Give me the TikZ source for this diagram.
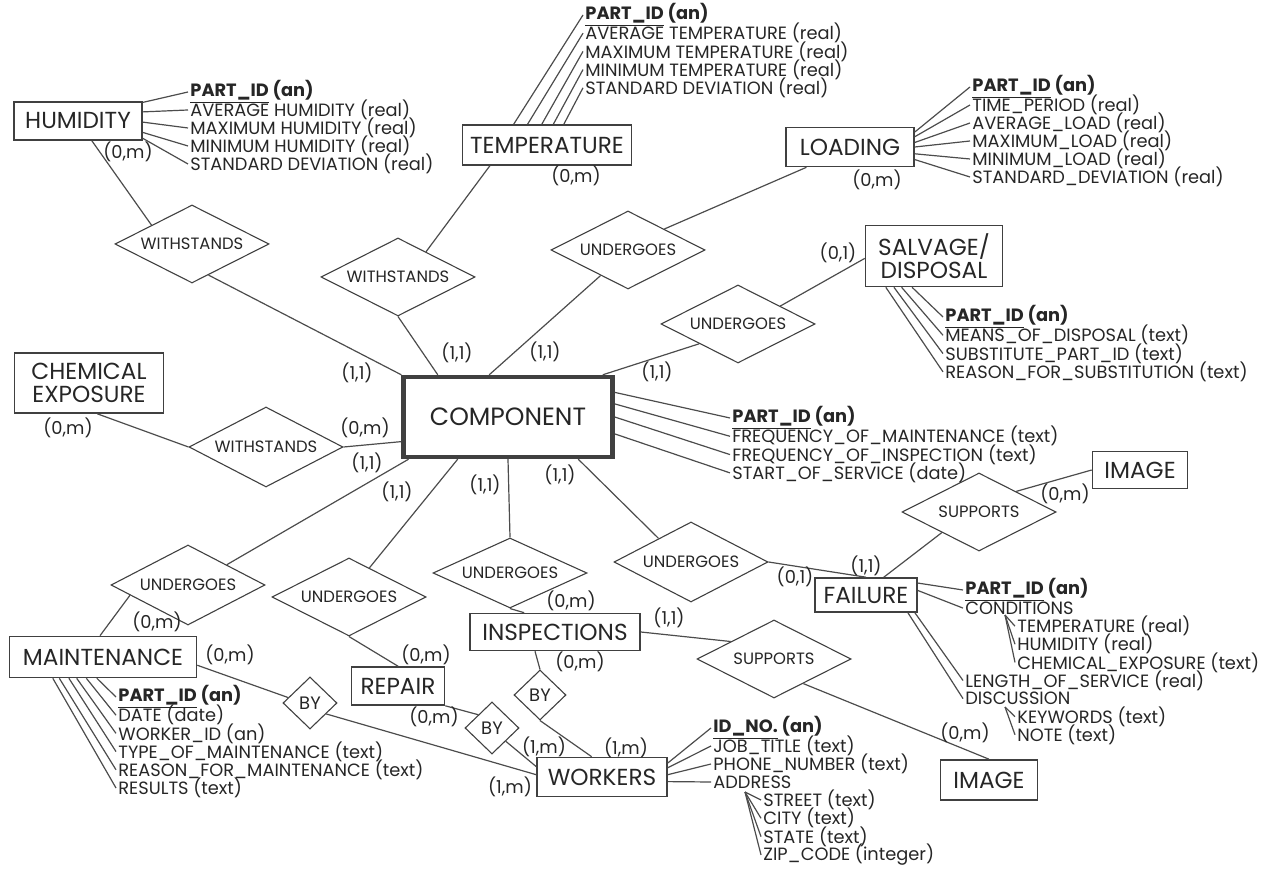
\documentclass[tikz,border=0pt]{standalone}
\usepackage{fontspec}
\setmainfont{Poppins}
\usetikzlibrary{shapes.geometric}
\newcommand{\keyattr}[2]{{\bfseries\underline{#1} #2}}
\tikzset{
  ent/.style={draw=black!75, line width=0.8pt, inner sep=0pt, align=center, text=black!85, font=\fontsize{11.6}{11.5}\selectfont},
  rel/.style={draw=black!75, line width=0.55pt, diamond, aspect=2, inner sep=0pt, minimum width=77pt, minimum height=39pt, text=black!85, font=\fontsize{8.2}{9}\selectfont},
  byrel/.style={rel, aspect=1, minimum width=27pt, minimum height=26pt, font=\fontsize{9}{10}\selectfont},
  attr/.style={anchor=west, inner sep=1pt, text=black!85, font=\fontsize{8.9}{9}\selectfont},
  card/.style={inner sep=0pt, text=black!85, font=\fontsize{8.9}{9}\selectfont},
  link/.style={draw=black!70, line width=0.6pt},
}
\begin{document}
\begin{tikzpicture}[x=0.5pt,y=-0.5pt]
\useasboundingbox (0,0) rectangle (1279,870);
% entities
\node[ent, minimum width=64pt, minimum height=19pt] (hum) at (78,121) {HUMIDITY};
\node[ent, minimum width=84.5pt, minimum height=20pt] (temp) at (547,145) {TEMPERATURE};
\node[ent, minimum width=64pt, minimum height=19.5pt] (load) at (850,147) {LOADING};
\node[ent, minimum width=68.5pt, minimum height=30.5pt] (salv) at (934,256) {SALVAGE/\\DISPOSAL};
\node[ent, minimum width=74.5pt, minimum height=30pt] (chem) at (89,383) {CHEMICAL\\EXPOSURE};
\node[ent, line width=2.2pt, minimum width=104.5pt, minimum height=40pt, font=\fontsize{12.5}{13}\selectfont] (comp) at (508,417) {COMPONENT};
\node[ent, minimum width=47.5pt, minimum height=18.5pt] (imga) at (1140,470) {IMAGE};
\node[ent, minimum width=51pt, minimum height=17pt] (fail) at (866,595) {FAILURE};
\node[ent, minimum width=93.5pt, minimum height=20.5pt] (maint) at (103,657) {MAINTENANCE};
\node[ent, minimum width=46.5pt, minimum height=19pt] (rep) at (398,686) {REPAIR};
\node[ent, minimum width=85pt, minimum height=18.5pt] (insp) at (555,632) {INSPECTIONS};
\node[ent, minimum width=65pt, minimum height=19.5pt] (work) at (602,777) {WORKERS};
\node[ent, minimum width=48.5pt, minimum height=20pt] (imgb) at (989,780) {IMAGE};
% relationships
\node[rel] (wh) at (192,244) {WITHSTANDS};
\node[rel] (wt) at (398,277) {WITHSTANDS};
\node[rel] (ul) at (628,250) {UNDERGOES};
\node[rel] (us) at (738,324) {UNDERGOES};
\node[rel, minimum height=40pt] (wc) at (266,447) {WITHSTANDS};
\node[rel, minimum height=40pt] (um) at (188,585) {UNDERGOES};
\node[rel] (ur) at (349,597) {UNDERGOES};
\node[rel, minimum height=35pt] (ui) at (510,573) {UNDERGOES};
\node[rel, minimum height=40pt] (uf) at (691,562) {UNDERGOES};
\node[rel] (sa) at (979,512) {SUPPORTS};
\node[rel] (sb) at (774,659) {SUPPORTS};
\node[byrel] (bm) at (310,703) {BY};
\node[byrel] (br) at (492,728) {BY};
\node[byrel, minimum width=26pt, minimum height=25pt] (bi) at (540,695) {BY};
% connectors
\draw[link] (hum.305) -- (wh.155);
\draw[link] (wh.298) -- (comp.north west);
\draw[link] (temp.200) -- (wt.42);
\draw[link] (wt.south) -- (comp.149);
\draw[link] (load.205) -- (ul.30);
\draw[link] (ul.223) -- (comp.114);
\draw[link] (salv.182) -- (us.23);
\draw[link] (us.south west) -- (comp.24);
\draw[link] (chem.285) -- (wc.west);
\draw[link] (wc.east) -- (comp.193);
\draw[link] (comp.203) -- (um.north east);
\draw[link] (um.190) -- (maint.98);
\draw[link] (comp.220) -- (ur.55);
\draw[link] (ur.south) -- (rep.north);
\draw[link] (comp.south) -- (ui.north);
\draw[link] (ui.south) -- (insp.148);
\draw[link] (insp.224) -- (bi.north);
\draw[link] (bi.south) -- (work.117);
\draw[link] (rep.south east) -- (br.north west);
\draw[link] (br.south east) -- (work.171);
\draw[link] (maint.355) -- (bm.166);
\draw[link] (bm.326) -- (work.178);
\draw[link] (comp.329) -- (uf.144);
\draw[link] (uf.east) -- (fail.north);
\draw[link] (fail.45) -- (sa.209);
\draw[link] (sa.29) -- (imga.west);
\draw[link] (insp.east) -- (sb.158);
\draw[link] (sb.320) -- (imgb.north);
% humidity attributes
\node[attr] (h1) at (188,92) {\keyattr{PART\_ID}{(an)}};
\foreach \txt [count=\i from 2] in {AVERAGE HUMIDITY (real), MAXIMUM HUMIDITY (real), MINIMUM HUMIDITY (real), STANDARD DEVIATION (real)}
  \node[attr] (h\i) at (188,{92+18*(\i-1)}) {\txt};
\foreach \a [count=\i] in {16,8,359,350,345} \draw[link] (hum.\a) -- (h\i.west);
% temperature attributes
\node[attr] (t1) at (583,15) {\keyattr{PART\_ID}{(an)}};
\foreach \txt [count=\i from 2] in {AVERAGE TEMPERATURE (real), MAXIMUM TEMPERATURE (real), MINIMUM TEMPERATURE (real), STANDARD DEVIATION (real)}
  \node[attr] (t\i) at (583,{15+18.2*(\i-1)}) {\txt};
\foreach \a [count=\i] in {148,133,104,73,51} \draw[link] (temp.\a) -- (t\i.west);
% loading attributes
\node[attr] (l1) at (970,87) {\keyattr{PART\_ID}{(an)}};
\foreach \txt [count=\i from 2] in {TIME\_PERIOD (real), AVERAGE\_LOAD (real), MAXIMUM\_LOAD (real), MINIMUM\_LOAD (real), STANDARD\_DEVIATION (real)}
  \node[attr] (l\i) at (970,{87+18*(\i-1)}) {\txt};
\foreach \a [count=\i] in {13,9,4.5,0,354,349} \draw[link] (load.\a) -- (l\i.west);
% salvage attributes
\node[attr] (s1) at (943,317) {\keyattr{PART\_ID}{(an)}};
\foreach \txt [count=\i from 2] in {MEANS\_OF\_DISPOSAL (text), SUBSTITUTE\_PART\_ID (text), REASON\_FOR\_SUBSTITUTION (text)}
  \node[attr] (s\i) at (943,{317+18.3*(\i-1)}) {\txt};
\foreach \a [count=\i] in {235,224,218,213} \draw[link] (salv.\a) -- (s\i.west);
% component attributes
\node[attr] (c1) at (730,418) {\keyattr{PART\_ID}{(an)}};
\foreach \txt [count=\i from 2] in {FREQUENCY\_OF\_MAINTENANCE (text), FREQUENCY\_OF\_INSPECTION (text), START\_OF\_SERVICE (date)}
  \node[attr] (c\i) at (730,{418+18.3*(\i-1)}) {\txt};
\foreach \a [count=\i] in {13.5,7.6,0,351} \draw[link] (comp.\a) -- (c\i.west);
% failure attributes
\node[attr] (f1) at (963,590) {\keyattr{PART\_ID}{(an)}};
\foreach \x/\txt [count=\i from 2] in {963/CONDITIONS, 1015/TEMPERATURE (real), 1015/HUMIDITY (real), 1015/CHEMICAL\_EXPOSURE (text), 963/LENGTH\_OF\_SERVICE (real), 963/DISCUSSION, 1015/KEYWORDS (text), 1015/NOTE (text)}
  \node[attr] (f\i) at (\x,{590+18.1*(\i-1)}) {\txt};
\draw[link] (fail.13) -- (f1.west);
\draw[link] (fail.5.6) -- (f2.west);
\draw[link] (fail.340) -- (f6.west);
\draw[link] (fail.337) -- (f7.west);
\coordinate (condroot) at (1005,615);
\coordinate (discroot) at (1005,707);
\foreach \i in {3,4,5} \draw[link] (condroot) -- (f\i.west);
\foreach \i in {8,9} \draw[link] (discroot) -- (f\i.west);
% maintenance attributes
\node[attr] (m1) at (116,697) {\keyattr{PART\_ID}{(an)}};
\foreach \txt [count=\i from 2] in {DATE (date), WORKER\_ID (an), TYPE\_OF\_MAINTENANCE (text), REASON\_FOR\_MAINTENANCE (text), RESULTS (text)}
  \node[attr] (m\i) at (116,{697+18.2*(\i-1)}) {\txt};
\foreach \a [count=\i] in {254,232,219,212,206.6,203} \draw[link] (maint.\a) -- (m\i.west);
% workers attributes
\node[attr] (w1) at (711,728) {\keyattr{ID\_NO.}{(an)}};
\foreach \txt [count=\i from 2] in {JOB\_TITLE (text), PHONE\_NUMBER (text), ADDRESS}
  \node[attr] (w\i) at (711,{728+18*(\i-1)}) {\txt};
\foreach \a [count=\i] in {12.4,8.2,2.2,356} \draw[link] (work.\a) -- (w\i.west);
\foreach \txt [count=\i] in {STREET (text), CITY (text), STATE (text), ZIP\_CODE (integer)}
  \node[attr] (wa\i) at (761,{800+18.3*(\i-1)}) {\txt};
\coordinate (addrroot) at (745,792);
\foreach \i in {1,...,4} \draw[link] (addrroot) -- (wa\i.west);
% cardinalities
\foreach \x/\y [count=\i] in {128/152, 576/176, 877/180, 68/428, 365/428, 157/622, 230/655, 426/655, 434/717, 571/601, 580/662, 1065/494, 965/733}
  \node[card] (zm\i) at (\x,\y) {(0,m)};
\foreach \x/\y [count=\i] in {357/373, 457/353, 545/352, 657/372, 367/463, 397/492, 485/485, 560/475, 669/618, 866/566}
  \node[card] (oo\i) at (\x,\y) {(1,1)};
\foreach \x/\y [count=\i] in {838/253, 795/577}
  \node[card] (zo\i) at (\x,\y) {(0,1)};
\foreach \x/\y [count=\i] in {544/747, 626/748, 510/787}
  \node[card] (om\i) at (\x,\y) {(1,m)};
\end{tikzpicture}
\end{document}
